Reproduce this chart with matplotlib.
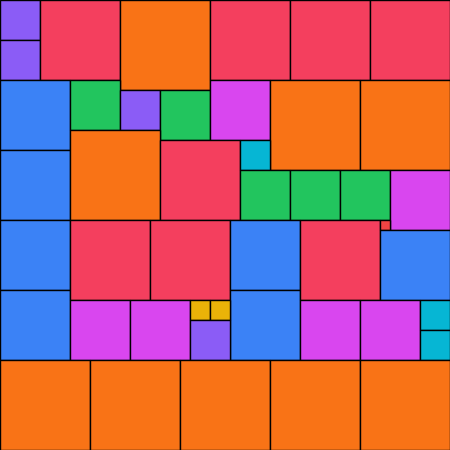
import matplotlib
matplotlib.use("Agg")
import matplotlib.pyplot as plt
from matplotlib.patches import Rectangle

# Square packing: left, top, side (grid units of 10px), category
xs = [0, 0, 4, 12, 21, 29, 37,
      0, 0, 7, 12, 16, 21, 27, 36, 7, 16, 24, 24, 29, 34, 39,
      0, 0, 7, 15, 23, 23, 30, 38, 38, 7, 13, 19, 21, 19, 30, 36, 42, 42,
      0, 9, 18, 27, 36]
ys = [0, 4, 0, 0, 0, 0, 0,
      8, 15, 8, 9, 9, 8, 8, 8, 13, 14, 14, 17, 17, 17, 17,
      22, 29, 22, 22, 22, 29, 22, 22, 23, 30, 30, 30, 30, 32, 30, 30, 30, 33,
      36, 36, 36, 36, 36]
sizes = [4, 4, 8, 9, 8, 8, 8,
         7, 7, 5, 4, 5, 6, 9, 9, 9, 8, 3, 5, 5, 5, 6,
         7, 7, 8, 8, 7, 7, 8, 1, 7, 6, 6, 2, 2, 4, 6, 6, 3, 3,
         9, 9, 9, 9, 9]
cats = ["purple", "purple", "rose", "orange", "rose", "rose", "rose",
        "blue", "blue", "green", "purple", "green", "fuchsia", "orange", "orange", "orange", "rose", "cyan",
        "green", "green", "green", "fuchsia",
        "blue", "blue", "rose", "rose", "blue", "blue", "rose", "red", "blue",
        "fuchsia", "fuchsia", "yellow", "yellow", "purple", "fuchsia", "fuchsia", "cyan", "cyan",
        "orange", "orange", "orange", "orange", "orange"]

palette = {
    "rose": "#F43F5E", "orange": "#F97316", "blue": "#3B82F6", "green": "#22C55E",
    "purple": "#8B5CF6", "fuchsia": "#D946EF", "cyan": "#06B6D4", "yellow": "#EAB308",
    "red": "#EF4444",
}

fig = plt.figure(figsize=(4.5, 4.5), dpi=100)
ax = fig.add_axes([0, 0, 1, 1])
for x, y, s, c in zip(xs, ys, sizes, cats):
    ax.add_patch(Rectangle((x, y), s, s, facecolor=palette[c], edgecolor="black", linewidth=1.0))
ax.set_xlim(0, 45)
ax.set_ylim(45, 0)
ax.axis("off")
fig.savefig("out.png", dpi=100)
